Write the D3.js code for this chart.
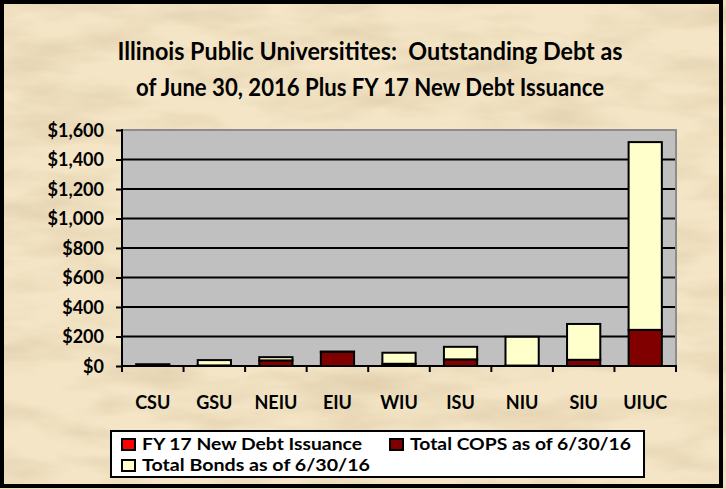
<!DOCTYPE html>
<html>
<head>
<meta charset="utf-8">
<script src="https://cdn.jsdelivr.net/npm/d3@7"></script>
<style>
  html, body { margin: 0; padding: 0; background: #efdfbb; }
  svg { display: block; }
  text { font-family: Lato, "Open Sans", sans-serif; font-weight: bold; fill: #000; }
</style>
</head>
<body>
<svg id="chart" width="726" height="489"></svg>
<script>
const categories = ["CSU", "GSU", "NEIU", "EIU", "WIU", "ISU", "NIU", "SIU", "UIUC"];
const fy17NewDebt = [0, 0, 0, 0, 0, 0, 0, 0, 0];
const totalCops = [12, 4, 38, 95, 15, 45, 3, 42, 245];
const totalBonds = [0, 36, 22, 3, 75, 85, 195, 243, 1273];
const seriesNames = ["FY 17 New Debt Issuance", "Total COPS as of 6/30/16", "Total Bonds as of 6/30/16"];
const seriesColors = ["#ff0000", "#800000", "#ffffcc"];
const yTicks = [0, 200, 400, 600, 800, 1000, 1200, 1400, 1600];
const titleLines = ["Illinois Public Universitites:  Outstanding Debt as", "of June 30, 2016 Plus FY 17 New Debt Issuance"];

const svg = d3.select("#chart");
const W = 726, H = 489;

// parchment background
const defs = svg.append("defs");
const f = defs.append("filter").attr("id", "parch").attr("x", 0).attr("y", 0).attr("width", "100%").attr("height", "100%");
f.append("feTurbulence").attr("type", "fractalNoise").attr("baseFrequency", "0.010 0.035").attr("numOctaves", 4).attr("seed", 7);
f.append("feColorMatrix").attr("type", "matrix")
  .attr("values", "0 0 0 0 0.62  0 0 0 0 0.47  0 0 0 0 0.28  0.85 0 0 0 -0.33");
svg.append("rect").attr("width", W).attr("height", H).attr("fill", "#f3e5c6");
svg.append("rect").attr("width", W).attr("height", H).attr("filter", "url(#parch)");

// outer frame
svg.append("rect").attr("x", 2).attr("y", 2).attr("width", 719).attr("height", 484)
  .attr("fill", "none").attr("stroke", "#000").attr("stroke-width", 4);

// title
const titleY = [60, 96];
const titleW = [505, 468];
titleLines.forEach((t, i) => {
  svg.append("text").attr("x", 370).attr("y", titleY[i]).attr("text-anchor", "middle")
    .attr("font-size", 24).style("white-space", "pre").attr("xml:space", "preserve")
    .attr("textLength", titleW[i]).attr("lengthAdjust", "spacingAndGlyphs").text(t);
});

// scales
const x = d3.scaleBand().domain(categories).range([122, 676]).paddingInner(0.46).paddingOuter(0.23);
const y = d3.scaleLinear().domain([0, 1600]).range([366, 130]);

// plot area
svg.append("rect").attr("x", 122).attr("y", 130).attr("width", 554).attr("height", 236).attr("fill", "#c0c0c0");
// gridlines
svg.append("g").selectAll("line").data(yTicks.filter(v => v > 0 && v < 1600)).join("line")
  .attr("x1", 122).attr("x2", 676).attr("y1", d => y(d)).attr("y2", d => y(d))
  .attr("stroke", "#000").attr("stroke-width", 2);
// plot border top/right
svg.append("path").attr("d", `M122,${y(1600)}H676V366`).attr("fill", "none").attr("stroke", "#8c8c8c").attr("stroke-width", 2);

// stacked bars
const rows = categories.map((c, i) => ({ cat: c, v: [fy17NewDebt[i], totalCops[i], totalBonds[i]] }));
const gBars = svg.append("g");
rows.forEach(r => {
  let base = 0;
  r.v.forEach((val, s) => {
    if (val > 0) {
      gBars.append("rect")
        .attr("x", x(r.cat)).attr("width", x.bandwidth())
        .attr("y", y(base + val)).attr("height", y(base) - y(base + val))
        .attr("fill", seriesColors[s]).attr("stroke", "#000").attr("stroke-width", 2);
    }
    base += val;
  });
});

// y axis
const yAxis = d3.axisLeft(y).tickValues(yTicks).tickSize(6).tickSizeOuter(0)
  .tickFormat(d => "$" + d3.format(",")(d));
const gy = svg.append("g").attr("transform", "translate(122,0)").call(yAxis);
gy.select(".domain").remove();
gy.selectAll(".tick line").attr("stroke", "#000").attr("stroke-width", 2);
gy.selectAll(".tick text").attr("x", -18).attr("dy", "0.36em")
  .style("font-family", "Lato, 'Open Sans', sans-serif").style("font-weight", "bold").style("font-size", "18px");
svg.append("line").attr("x1", 122).attr("x2", 122).attr("y1", 129).attr("y2", 372).attr("stroke", "#000").attr("stroke-width", 2);

// x axis
const xAxis = d3.axisBottom(x).tickSize(0).tickSizeOuter(0);
const gx = svg.append("g").attr("transform", "translate(0,366)").call(xAxis);
gx.select(".domain").remove();
gx.selectAll(".tick text").attr("y", 37).attr("dy", "0.36em")
  .style("font-family", "Lato, 'Open Sans', sans-serif").style("font-weight", "bold").style("font-size", "18px");
svg.append("line").attr("x1", 121).attr("x2", 677).attr("y1", 366).attr("y2", 366).attr("stroke", "#000").attr("stroke-width", 2);
// category boundary ticks
const step = x.step();
const x0 = x(categories[0]) - step * x.paddingOuter();
svg.append("g").selectAll("line").data(d3.range(categories.length + 1)).join("line")
  .attr("x1", i => x0 + i * step).attr("x2", i => x0 + i * step)
  .attr("y1", 366).attr("y2", 372).attr("stroke", "#000").attr("stroke-width", 2);

// legend
const lg = svg.append("g");
lg.append("rect").attr("x", 111).attr("y", 431).attr("width", 533).attr("height", 46)
  .attr("fill", "#fff").attr("stroke", "#000").attr("stroke-width", 2);
const legendPos = [[122, 450], [390, 450], [122, 471]];
const legendW = [220, 221, 228];
seriesNames.forEach((n, i) => {
  const [lx, ly] = legendPos[i];
  lg.append("rect").attr("x", lx).attr("y", ly - 11).attr("width", 13).attr("height", 11)
    .attr("fill", seriesColors[i]).attr("stroke", "#000").attr("stroke-width", 2);
  lg.append("text").attr("x", lx + 20).attr("y", ly).attr("font-size", 17)
    .attr("textLength", legendW[i]).attr("lengthAdjust", "spacingAndGlyphs").text(n);
});
</script>
</body>
</html>
